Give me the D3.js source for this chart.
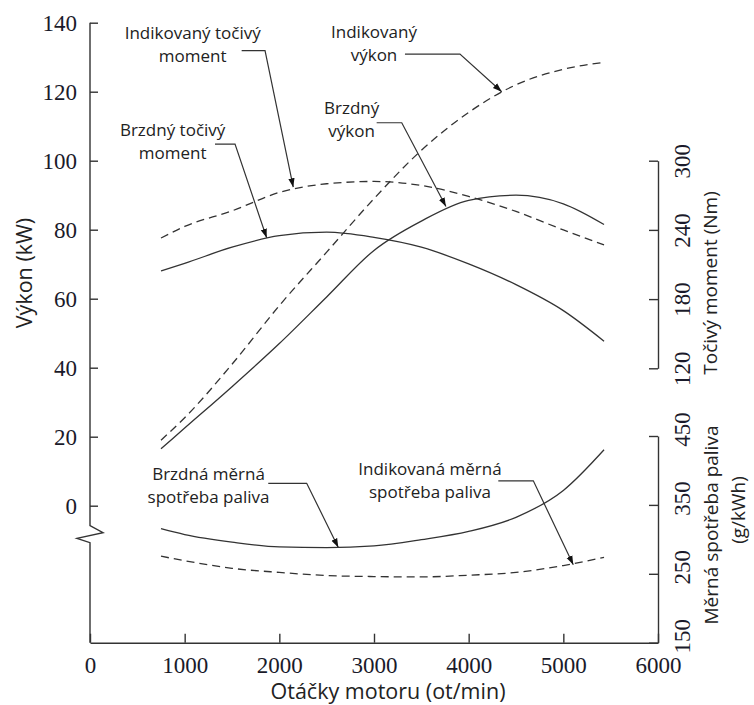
<!DOCTYPE html>
<html lang="cs">
<head>
    <meta charset="UTF-8">
    <title>Charakteristika motoru</title>
    <script src="https://d3js.org/d3.v7.min.js"></script>
    <style>
        html, body {
            margin: 0;
            background: #fff;
        }
        .tick text {
            font-family: "Liberation Serif", serif;
            font-size: 23px;
            fill: #1a1a2a;
        }
        .tick line, .domain {
            stroke: #333;
            stroke-width: 1.4px;
        }
        .title {
            font-family: "Open Sans", sans-serif;
            font-size: 19px;
            fill: #222;
        }
        .title.big {
            font-size: 21.5px;
        }
        .ann {
            font-family: "Open Sans", sans-serif;
            font-size: 17px;
            fill: #222;
        }
    </style>
</head>
<body>
<div id="vis"></div>
<script>
    // otacky (ot/min) a odectene hodnoty krivek
    var rpm = [750, 1000, 1500, 2000, 2500, 3000, 3500, 4000, 4500, 5000, 5430];
    var indPower = [19, 25.5, 41, 58, 73.5, 89, 103, 114, 122, 126.5, 128.5];        // kW
    var brakePower = [16.5, 22.5, 34.5, 47, 60.5, 74, 82.5, 88.5, 90, 87.5, 81.5];   // kW
    var indTorque = [233, 243, 256.5, 272.5, 280, 282, 278.5, 269, 256, 240, 227];   // Nm
    var brakeTorque = [204.5, 211, 225, 235, 238, 233.5, 225, 210.5, 192.5, 170, 143.5]; // Nm
    var brakeBsfc = [315.5, 307, 296, 289, 288, 290.5, 299.5, 311.5, 332, 371, 430]; // g/kWh
    var indBsfc = [275.5, 269, 258, 252, 247.5, 246, 245.5, 248, 252, 262, 274];      // g/kWh

    var rpmTicks = [0, 1000, 2000, 3000, 4000, 5000, 6000];
    var powerTicks = [0, 20, 40, 60, 80, 100, 120, 140];
    var torqueTicks = [120, 180, 240, 300];
    var bsfcTicks = [150, 250, 350, 450];

    // popisky: text, stred popisku [ot/min, kW], vodici cara, hrot sipky [ot/min, hodnota, osa]
    var annTexts = [["Indikovaný točivý", "moment"], ["Indikovaný", "výkon"], ["Brzdný", "výkon"],
                    ["Brzdný točivý", "moment"], ["Brzdná měrná", "spotřeba paliva"], ["Indikovaná měrná", "spotřeba paliva"]];
    var annAt = [[1085, 137], [3000, 137.2], [2764, 115.2], [873, 108.9], [1252, 9.2], [3591, 10.6]];
    var annElbow = [[1602, 1849, 131.9], [3327, 3908, 130.9], [3028, 3293, 111], [1320, 1532, 104.8], [1883, 2289, 6.5], [4313, 4683, 7.2]];
    var annTip = [[2147, 277, "T"], [4349, 120, "P"], [3760, 86.7, "P"], [1866, 233.2, "T"], [2623, 288.3, "B"], [5105, 263, "B"]];

    var width = 754, height = 705;

    var svg = d3.select("#vis").append("svg")
        .attr("width", width)
        .attr("height", height);

    var x = d3.scaleLinear().domain([0, 6000]).range([90, 658]);
    var yP = d3.scaleLinear().domain([0, 140]).range([505.7, 22.7]);
    var yT = d3.scaleLinear().domain([120, 300]).range([368.3, 160.7]);
    var yB = d3.scaleLinear().domain([150, 450]).range([642.7, 436]);
    var scales = {P: yP, T: yT, B: yB};

    // arrow marker
    svg.append("defs").append("marker")
        .attr("id", "arrow")
        .attr("viewBox", "0 0 10 10")
        .attr("refX", 10).attr("refY", 5)
        .attr("markerWidth", 9).attr("markerHeight", 9)
        .attr("markerUnits", "userSpaceOnUse")
        .attr("orient", "auto")
        .append("path")
        .attr("d", "M0,1.5 L10,5 L0,8.5 Z")
        .attr("fill", "#111");

    // bottom axis
    svg.append("g")
        .attr("transform", "translate(0," + yB(150) + ")")
        .call(d3.axisBottom(x).tickValues(rpmTicks).tickFormat(d3.format("d"))
            .tickSizeInner(-9).tickSizeOuter(0).tickPadding(14));

    // left axis (own line with break)
    var gl = svg.append("g")
        .attr("transform", "translate(" + x(0) + ",0)")
        .call(d3.axisLeft(yP).tickValues(powerTicks).tickSizeInner(-8).tickSizeOuter(0).tickPadding(13));
    gl.select(".domain").remove();
    var y0 = yP(0);
    gl.append("path")
        .attr("class", "domain")
        .attr("fill", "none")
        .attr("d", "M0," + yP(140) + "V" + (y0 + 20) + "L13," + (y0 + 27) + "L-13," + (y0 + 32.6) +
             "L0," + (y0 + 37) + "V" + yB(150));

    // right axes with rotated labels
    function rightAxis(scale, ticks, shift) {
        var g = svg.append("g")
            .attr("transform", "translate(" + x(6000) + ",0)")
            .call(d3.axisRight(scale).tickValues(ticks).tickSizeInner(-9).tickSizeOuter(0));
        g.selectAll(".tick text")
            .attr("x", 0).attr("y", 0).attr("dy", "0.35em")
            .attr("text-anchor", "middle")
            .attr("transform", "translate(24," + shift + ") rotate(-90)");
        return g;
    }
    rightAxis(yT, torqueTicks, 0);
    rightAxis(yB, bsfcTicks, -7);

    // axis titles
    svg.append("text").attr("class", "title big")
        .attr("text-anchor", "middle")
        .attr("transform", "translate(32,273) rotate(-90)")
        .text("Výkon (kW)");
    svg.append("text").attr("class", "title big")
        .attr("text-anchor", "middle")
        .attr("x", 388).attr("y", 699)
        .text("Otáčky motoru (ot/min)");
    svg.append("text").attr("class", "title")
        .attr("text-anchor", "middle")
        .attr("transform", "translate(717,283) rotate(-90)")
        .text("Točivý moment (Nm)");
    svg.append("text").attr("class", "title")
        .attr("text-anchor", "middle")
        .attr("transform", "translate(718,525) rotate(-90)")
        .text("Měrná spotřeba paliva");
    svg.append("text").attr("class", "title")
        .attr("text-anchor", "middle")
        .attr("transform", "translate(745,510) rotate(-90)")
        .text("(g/kWh)");

    // curves
    var series = [
        {values: indPower, scale: yP, dash: "8,5"},
        {values: brakePower, scale: yP, dash: null},
        {values: indTorque, scale: yT, dash: "8,5"},
        {values: brakeTorque, scale: yT, dash: null},
        {values: brakeBsfc, scale: yB, dash: null},
        {values: indBsfc, scale: yB, dash: "8,5"}
    ];

    series.forEach(function(s) {
        var line = d3.line()
            .x(function(d, i) { return x(rpm[i]); })
            .y(function(d) { return s.scale(d); })
            .curve(d3.curveMonotoneX);
        svg.append("path")
            .datum(s.values)
            .attr("fill", "none")
            .attr("stroke", "#333")
            .attr("stroke-width", 1.3)
            .attr("stroke-dasharray", s.dash)
            .attr("d", line);
    });

    // annotations
    annTexts.forEach(function(lines, i) {
        var t = svg.append("text").attr("class", "ann")
            .attr("text-anchor", "middle");
        lines.forEach(function(l, j) {
            t.append("tspan")
                .attr("x", x(annAt[i][0]))
                .attr("y", yP(annAt[i][1]) + j * 23)
                .attr("dy", "0.35em")
                .text(l);
        });
        var e = annElbow[i], tip = annTip[i];
        svg.append("path")
            .attr("fill", "none")
            .attr("stroke", "#333")
            .attr("stroke-width", 1.2)
            .attr("marker-end", "url(#arrow)")
            .attr("d", "M" + x(e[0]) + "," + yP(e[2]) + "H" + x(e[1]) +
                 "L" + x(tip[0]) + "," + scales[tip[2]](tip[1]));
    });
</script>
</body>
</html>
